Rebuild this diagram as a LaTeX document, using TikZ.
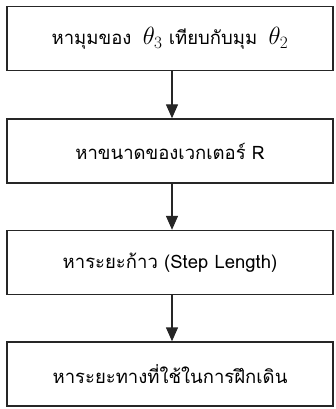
\documentclass[tikz,border=0pt]{standalone}
\usepackage{fontspec}
\newfontfamily\thai[Script=Thai]{Loma}
\usetikzlibrary{arrows.meta}
\begin{document}
\begin{tikzpicture}[x=1pt,y=-1pt,
  box/.style={draw=black!85,line width=1.4pt,minimum width=326pt,minimum height=64pt,inner sep=0pt,font=\thai\fontsize{18.5}{21}\selectfont},
  arr/.style={draw=black!85,line width=1.4pt,-{Triangle[width=12pt,length=14pt]}}]
\useasboundingbox[fill=white] (0,0) rectangle (335,409);
\node[box] (b1) at (170,38.5) {หามุมของ \;{\fontsize{24}{26}\selectfont$\theta_3$} เทียบกับมุม \;{\fontsize{24}{26}\selectfont$\theta_2$}};
\node[box] (b2) at (170,151) {หาขนาดของเวกเตอร์ R};
\node[box] (b3) at (170,262.5) {หาระยะก้าว (Step Length)};
\node[box] (b4) at (170,374) {หาระยะทางที่ใช้ในการฝึกเดิน};
\draw[arr] (b1.south -| 172,0) -- (b2.north -| 172,0);
\draw[arr] (b2.south -| 172,0) -- (b3.north -| 172,0);
\draw[arr] (b3.south -| 172,0) -- (b4.north -| 172,0);
\end{tikzpicture}
\end{document}
